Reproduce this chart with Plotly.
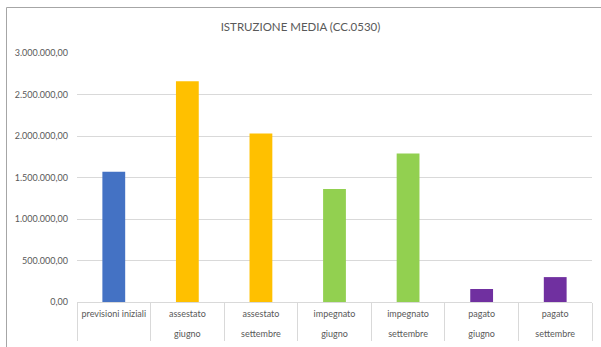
import plotly.graph_objects as go

categories = ["previsioni iniziali", "assestato<br>giugno", "assestato<br>settembre",
              "impegnato<br>giugno", "impegnato<br>settembre", "pagato<br>giugno", "pagato<br>settembre"]
values = [1570000, 2660000, 2030000, 1360000, 1790000, 157000, 300000]
colors = ["#4472C4", "#FFC000", "#FFC000", "#92D050", "#92D050", "#7030A0", "#7030A0"]
y_ticks = [0, 500000, 1000000, 1500000, 2000000, 2500000, 3000000]

W, H = 601, 347
ml, mr, mt, mb = 77, 9, 53, 45

fig = go.Figure(go.Bar(x=categories, y=values, marker=dict(color=colors, line=dict(width=0)),
                       width=0.31))

# small glyphs, wide line spacing (Excel-like)
tick_text = ["<br>".join("<span style='font-size:9px'>%s</span>" % part for part in c.split("<br>"))
             for c in categories]

fig.update_layout(
    width=W, height=H,
    margin=dict(l=ml, r=mr, t=mt, b=mb, autoexpand=False),
    paper_bgcolor="white", plot_bgcolor="white",
    separators=",.",
    showlegend=False,
    font=dict(family="Lato", color="#595959"),
    title=dict(text="ISTRUZIONE MEDIA (CC.0530)", x=0.5, xanchor="center",
               y=1 - 27 / H, yanchor="middle", font=dict(size=11.5, color="#595959")),
)
fig.update_yaxes(range=[0, 3000000], tickvals=y_ticks, tickformat=",.2f",
                 showgrid=True, gridcolor="#D9D9D9", gridwidth=1, zeroline=False,
                 showline=False, ticks="", ticklabelstandoff=8, automargin=False,
                 tickfont=dict(size=9, color="#595959"))
fig.update_xaxes(showline=True, linecolor="#D9D9D9", linewidth=1, tickangle=0,
                 tickvals=categories, ticktext=tick_text,
                 ticks="outside", tickson="boundaries", ticklen=38, tickcolor="#D9D9D9",
                 ticklabelstandoff=-4, automargin=False,
                 tickfont=dict(size=15, color="#595959"), showgrid=False)

# chart area border (top and left visible)
def px(x): return (x - ml) / (W - ml - mr)
def py(y): return (H - mb - y) / (H - mt - mb)
fig.add_shape(type="line", xref="paper", yref="paper", x0=px(6.5), x1=px(601), y0=py(7.5), y1=py(7.5),
              line=dict(color="#A6A6A6", width=1))
fig.add_shape(type="line", xref="paper", yref="paper", x0=px(6.5), x1=px(6.5), y0=py(7.5), y1=py(347),
              line=dict(color="#A6A6A6", width=1))

fig.write_html("out.html", config={"displayModeBar": False},
               post_script="document.body.style.margin='0';")
